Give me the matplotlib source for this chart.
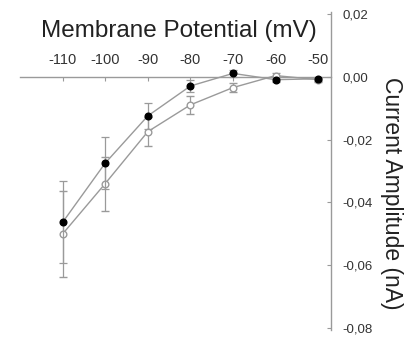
import numpy as np
import matplotlib.pyplot as plt

plt.rcParams['font.family'] = ['Liberation Sans', 'DejaVu Sans']

voltage = [-110, -100, -90, -80, -70, -60, -50]
filled = [-0.0463, -0.0275, -0.0125, -0.0030, 0.0010, -0.0010, -0.0007]
filled_err = [0.0130, 0.0083, 0.0042, 0.0020, 0.0010, 0.0008, 0.0006]
open_ = [-0.0500, -0.0340, -0.0175, -0.0090, -0.0035, 0.0003, -0.0010]
open_err = [0.0138, 0.0086, 0.0045, 0.0028, 0.0015, 0.0008, 0.0006]

xticks = [-110, -100, -90, -80, -70, -60, -50]
yticks = [0.02, 0.0, -0.02, -0.04, -0.06, -0.08]

fig = plt.figure(figsize=(4.15, 3.37), dpi=100)
ax = fig.add_axes([20 / 415, 7 / 337, 311 / 415, 318 / 337])

grey = '#9a9a9a'
ax.errorbar(voltage, open_, yerr=open_err, color=grey, lw=1.0, elinewidth=0.9,
            capsize=3, capthick=0.9, marker='o', ms=4.8, mfc='white', mec=grey,
            mew=1.0, zorder=3)
ax.errorbar(voltage, filled, yerr=filled_err, color=grey, lw=1.0, elinewidth=0.9,
            capsize=3, capthick=0.9, marker='o', ms=4.8, mfc='black', mec='black',
            zorder=4)

ax.set_xlim(-120, -47)
ax.set_ylim(-0.0805, 0.0205)

for s in ['left', 'bottom']:
    ax.spines[s].set_visible(False)
ax.spines['top'].set_position(('data', 0))
ax.spines['top'].set_color(grey)
ax.spines['right'].set_color(grey)
ax.spines['top'].set_linewidth(1.0)
ax.spines['right'].set_linewidth(1.0)

ax.xaxis.set_ticks_position('top')
ax.set_xticks(xticks)
ax.set_xticklabels([str(v) for v in xticks])
ax.tick_params(axis='x', direction='in', length=3, color=grey, pad=7,
               labelsize=10.5, labelcolor='#333333')

ax.yaxis.set_ticks_position('right')
ax.set_yticks(yticks)
ax.set_yticklabels([('%.2f' % v).replace('.', ',').replace('-0,00', '0,00') for v in yticks])
ax.tick_params(axis='y', direction='in', length=3, color=grey, pad=8,
               labelsize=9.5, labelcolor='#333333')

ax.yaxis.set_label_position('right')
ax.set_ylabel('Current Amplitude (nA)', rotation=-90, fontsize=16.5,
              color='#222222', va='center', ha='center')
ax.yaxis.set_label_coords(1.195, 0.43)

fig.text(179 / 415, 1 - 31 / 337, 'Membrane Potential (mV)', fontsize=17.5,
         color='#222222', ha='center', va='center')

fig.savefig('out.png', dpi=100)
